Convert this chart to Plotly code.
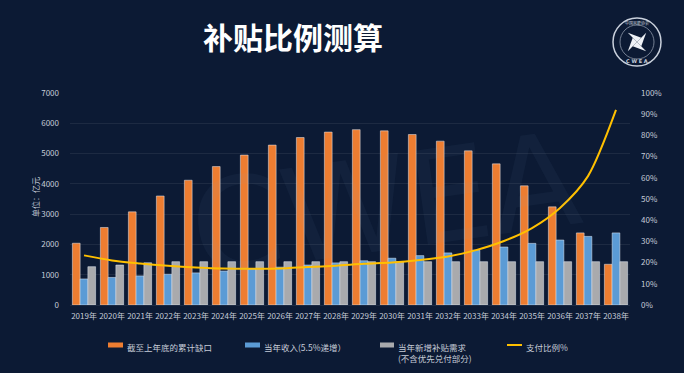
import math
import plotly.graph_objects as go

# ---------------- data ----------------
years = ["2019年", "2020年", "2021年", "2022年", "2023年", "2024年", "2025年",
         "2026年", "2027年", "2028年", "2029年", "2030年", "2031年", "2032年",
         "2033年", "2034年", "2035年", "2036年", "2037年", "2038年"]
cum_gap = [2040, 2560, 3075, 3600, 4120, 4570, 4950, 5280, 5530, 5710,
           5790, 5750, 5630, 5410, 5090, 4660, 3935, 3240, 2380, 1345]
income = [860, 910, 960, 1015, 1060, 1120, 1185, 1250, 1320, 1390,
          1460, 1545, 1630, 1720, 1810, 1915, 2035, 2145, 2265, 2380]
new_demand = [1265, 1320, 1395, 1430, 1430, 1430, 1430, 1430, 1430, 1430,
              1430, 1430, 1430, 1430, 1430, 1430, 1430, 1430, 1430, 1430]
pay_ratio = [0.234, 0.210, 0.196, 0.185, 0.177, 0.172, 0.171, 0.172, 0.179, 0.185,
             0.194, 0.200, 0.212, 0.229, 0.259, 0.302, 0.363, 0.458, 0.608, 0.920]

legend_names = ["截至上年底的累计缺口", "当年收入(5.5%递增）",
                "当年新增补贴需求<br>(不含优先兑付部分)", "支付比例%"]
title_text = "补贴比例测算"
ytitle_text = "单位：亿元"

# ---------------- style ----------------
W, H = 684, 373
ML, MR, MT, MB = 70, 54, 93, 68
PW, PH = W - ML - MR, H - MT - MB
BG = "#0c1a34"
C_ORANGE = "#ed7d31"
C_BLUE = "#5b9bd5"
C_GRAY = "#a9aaad"
C_YELLOW = "#ffc000"
TXT = "#c6ccd8"
FONT = "Noto Sans CJK SC"


def px(x):
    return (x - ML) / PW


def py(y):
    return (H - MB - y) / PH


fig = go.Figure()
fig.add_bar(x=years, y=cum_gap, name=legend_names[0], marker_color=C_ORANGE,
            showlegend=False)
fig.add_bar(x=years, y=income, name=legend_names[1], marker_color=C_BLUE,
            showlegend=False)
fig.add_bar(x=years, y=new_demand, name=legend_names[2], marker_color=C_GRAY,
            showlegend=False)
fig.add_scatter(x=years, y=pay_ratio, name=legend_names[3], yaxis="y2",
                mode="lines", line=dict(color=C_YELLOW, width=2, shape="spline",
                                        smoothing=0.8),
                showlegend=False)

shapes = []
annotations = []

# watermark
annotations.append(dict(text="CWEA", x=px(385), y=py(205), xref="paper", yref="paper",
                        showarrow=False, textangle=-8,
                        font=dict(family="DejaVu Sans", size=130, color="rgba(140,170,220,0.05)"),
                        xanchor="center", yanchor="middle"))

# title
annotations.append(dict(text="<b>" + title_text + "</b>", x=px(293), y=py(36),
                        xref="paper", yref="paper", showarrow=False,
                        font=dict(family=FONT, size=30, color="#ffffff"),
                        xanchor="center", yanchor="middle"))

# y-axis title
annotations.append(dict(text=ytitle_text, x=px(35), y=py(197), xref="paper", yref="paper",
                        showarrow=False, textangle=-90,
                        font=dict(family=FONT, size=8, color=TXT),
                        xanchor="center", yanchor="middle"))

# manual legend
leg = [
    (108, 123, "rect", C_ORANGE, legend_names[0]),
    (245, 260, "rect", C_BLUE, legend_names[1]),
    (380, 394, "rect", C_GRAY, legend_names[2]),
    (507, 522, "line", C_YELLOW, legend_names[3]),
]
LY = 345
for x0, x1, kind, col, name in leg:
    if kind == "rect":
        shapes.append(dict(type="rect", xref="paper", yref="paper",
                           x0=px(x0), x1=px(x1), y0=py(LY + 2.5), y1=py(LY - 2.5),
                           fillcolor=col, line=dict(width=0)))
    else:
        shapes.append(dict(type="line", xref="paper", yref="paper",
                           x0=px(x0), x1=px(x1), y0=py(LY), y1=py(LY),
                           line=dict(color=col, width=2)))
    annotations.append(dict(text=name, x=px(x1 + 2), y=py(LY - 6.5), xref="paper", yref="paper",
                            showarrow=False, align="left",
                            font=dict(family=FONT, size=8.5, color=TXT),
                            xanchor="left", yanchor="top"))

# logo (decorative)
cx, cy, R = 637, 42, 24
shapes.append(dict(type="circle", xref="paper", yref="paper",
                   x0=px(cx - R), x1=px(cx + R), y0=py(cy + R), y1=py(cy - R),
                   line=dict(color="#c9d0dc", width=1.5)))
r2 = 17
shapes.append(dict(type="circle", xref="paper", yref="paper",
                   x0=px(cx - r2), x1=px(cx + r2), y0=py(cy + r2), y1=py(cy - r2),
                   line=dict(color="#8e98aa", width=0.8)))
for k in range(4):
    a = math.radians(45 + 90 * k)
    b = a + math.radians(90)
    p1 = (cx + 13 * math.cos(a), cy + 13 * math.sin(a))
    p2 = (cx + 6 * math.cos(b), cy + 6 * math.sin(b))
    path = "M {:.5f},{:.5f} L {:.5f},{:.5f} L {:.5f},{:.5f} Z".format(
        px(cx), py(cy), px(p1[0]), py(p1[1]), px(p2[0]), py(p2[1]))
    shapes.append(dict(type="path", xref="paper", yref="paper", path=path,
                       fillcolor="#eef1f6", line=dict(width=0)))
annotations.append(dict(text="<b>C W E A</b>", x=px(cx), y=py(cy + 19), xref="paper", yref="paper",
                        showarrow=False, font=dict(family="DejaVu Sans", size=5, color="#c9d0dc"),
                        xanchor="center", yanchor="middle"))
annotations.append(dict(text="中国风能协会", x=px(cx), y=py(cy - 19), xref="paper", yref="paper",
                        showarrow=False, font=dict(family=FONT, size=4, color="#c9d0dc"),
                        xanchor="center", yanchor="middle"))

fig.update_layout(
    width=W, height=H,
    margin=dict(l=ML, r=MR, t=MT, b=MB, pad=0),
    paper_bgcolor=BG, plot_bgcolor="rgba(0,0,0,0)",
    barmode="group", bargap=0.17, bargroupgap=0,
    font=dict(family=FONT, color=TXT, size=8),
    xaxis=dict(type="category", showgrid=False, zeroline=False, showline=True,
               linecolor="#1d2b44", linewidth=1, ticks="", tickangle=0,
               ticklabelstandoff=3, tickfont=dict(size=8, color=TXT)),
    yaxis=dict(range=[0, 7000], dtick=1000, showgrid=True,
               gridcolor="rgba(255,255,255,0.07)", gridwidth=1, zeroline=False,
               ticks="", ticklabelstandoff=10, tickfont=dict(size=8, color=TXT)),
    yaxis2=dict(range=[0, 1.0], dtick=0.1, tickformat=".0%", overlaying="y",
                side="right", showgrid=False, zeroline=False, ticks="",
                ticklabelstandoff=10, tickfont=dict(size=8, color=TXT)),
    shapes=shapes,
    annotations=annotations,
    showlegend=False,
)

fig.write_html("out.html", config={"displayModeBar": False},
               post_script="document.body.style.margin='0px';document.body.style.background='%s';" % BG)
